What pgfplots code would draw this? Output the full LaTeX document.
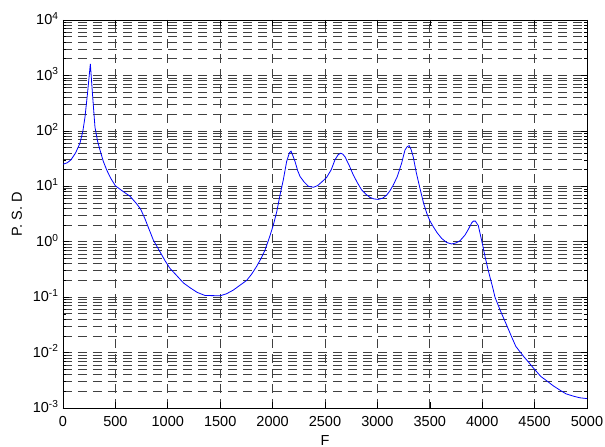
\documentclass[border=0pt]{standalone}
\usepackage{fontspec}
\setmainfont{Liberation Sans}
\usepackage{pgfplots}
\pgfplotsset{compat=1.18}
\begin{document}
\begin{tikzpicture}
\path[use as bounding box] (-63pt,-39pt) rectangle (542pt,408pt);
\begin{axis}[
  scale only axis, width=524pt, height=388pt,
  at={(0,0)}, anchor=south west,
  xmin=0, xmax=5000, ymin=1e-3, ymax=1e4, ymode=log,
  xtick={0,500,...,5000},
  xticklabels={0,500,1000,1500,2000,2500,3000,3500,4000,4500,5000},
  ytick={1e-3,1e-2,1e-1,1,1e1,1e2,1e3,1e4},
  yticklabels={10\textsuperscript{-3},10\textsuperscript{-2},10\textsuperscript{-1},10\textsuperscript{0},10\textsuperscript{1},10\textsuperscript{2},10\textsuperscript{3},10\textsuperscript{4}},
  tick align=inside, tick pos=both,
  major tick length=6pt, minor tick length=3pt,
  tick style={black, line width=0.6pt},
  every tick label/.append style={font=\fontsize{14.5}{16}\selectfont},
  xticklabel style={yshift=-4.5pt},
  yticklabel style={yshift=1.5pt, xshift=-1pt},
  xmajorgrids, ymajorgrids, yminorgrids,
  major grid style={black!75, line width=0.7pt, dash pattern=on 9pt off 6pt},
  minor grid style={black!75, line width=0.7pt, dash pattern=on 9pt off 6pt},
  axis line style={black, line width=0.8pt},
  xlabel={F}, ylabel={P. S. D},
  label style={font=\fontsize{14.5}{16}\selectfont},
  xlabel style={at={(axis description cs:0.5,-0.083)}, anchor=center},
  ylabel style={at={(axis description cs:-0.088,0.5)}, anchor=center},
]
\addplot[blue, line width=0.8pt] coordinates {
(0,25) (40,26.5) (76,30) (120,40) (162,60) (190,100) (210,178) (235,500) (261,1620)
(280,500) (305,117) (330,65) (353,45) (385,28) (417,19.7) (455,14) (500,10.2)
(560,8.4) (640,6.6) (700,4.9) (740,3.9) (782,2.6) (820,1.7) (862,1.07) (925,0.66)
(975,0.45) (1021,0.33) (1085,0.245) (1150,0.18) (1212,0.148) (1280,0.122) (1355,0.107)
(1500,0.106) (1560,0.115) (1625,0.134) (1700,0.17) (1752,0.20) (1800,0.26) (1848,0.36)
(1890,0.5) (1928,0.71) (1970,1.2) (2007,2.0) (2040,3.5) (2071,7.0) (2102,13) (2134,28)
(2160,40) (2176,43) (2195,35) (2214,28) (2240,19) (2262,15) (2300,12) (2341,10)
(2390,9.6) (2430,10.3) (2470,12) (2516,14.5) (2560,20) (2595,30) (2625,37) (2649,39.5)
(2670,38) (2691,34) (2730,24) (2770,16) (2810,11.5) (2850,8.6) (2890,7.2) (2929,6.3)
(2970,5.9) (3008,5.8) (3050,6.1) (3088,6.9) (3120,8.3) (3151,10.5) (3190,15) (3231,26)
(3263,45) (3285,52) (3304,54) (3320,47) (3342,34) (3370,18) (3406,9.2) (3440,5)
(3470,3.3) (3500,2.4) (3533,1.87) (3570,1.45) (3613,1.15) (3660,0.97) (3708,0.91)
(3750,0.95) (3788,1.04) (3836,1.32) (3870,1.7) (3900,2.2) (3915,2.35) (3935,2.35)
(3963,1.95) (3980,1.4) (3995,1.05) (4027,0.54) (4050,0.35) (4074,0.23) (4100,0.15)
(4122,0.10) (4170,0.059) (4234,0.031) (4282,0.019) (4320,0.013) (4361,0.0103)
(4400,0.0083) (4440,0.0068) (4480,0.0055) (4520,0.0045) (4560,0.0037) (4615,0.0031)
(4680,0.0025) (4742,0.0021) (4800,0.0018) (4869,0.00164) (4930,0.00153) (5000,0.00148)
};
\end{axis}
\end{tikzpicture}
\end{document}
